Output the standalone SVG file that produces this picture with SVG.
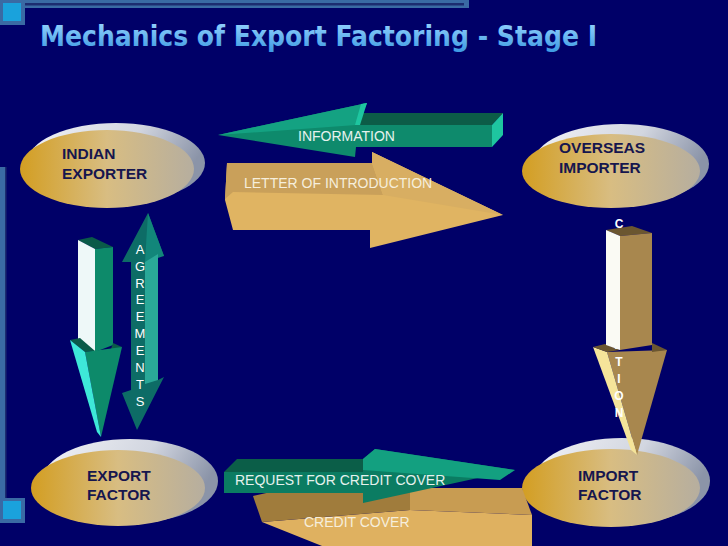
<svg xmlns="http://www.w3.org/2000/svg" width="728" height="546" viewBox="0 0 728 546">
<defs>
  <linearGradient id="face" x1="0" y1="0" x2="1" y2="0">
    <stop offset="0" stop-color="#d39e22"/>
    <stop offset="0.5" stop-color="#d8bd82"/>
    <stop offset="1" stop-color="#b6ae9f"/>
  </linearGradient>
  <linearGradient id="rim" x1="0" y1="0" x2="1" y2="0.3">
    <stop offset="0" stop-color="#f2f3f7"/>
    <stop offset="0.6" stop-color="#d2d6e0"/>
    <stop offset="1" stop-color="#8b94a8"/>
  </linearGradient>
  <linearGradient id="titleGrad" x1="0" y1="0" x2="0" y2="1">
    <stop offset="0" stop-color="#9ad6ff"/>
    <stop offset="1" stop-color="#3a98e2"/>
  </linearGradient>
</defs>
<style>
  .node-text{font-family:"Liberation Sans",Arial,sans-serif;font-weight:bold;font-size:15.5px;fill:#16164e}
  .lbl-g{font-family:"Liberation Sans",Arial,sans-serif;font-size:14px;fill:#e6f2ee}
  .lbl-t{font-family:"Liberation Sans",Arial,sans-serif;font-size:14px;fill:#f6eedc}
  .vt{font-family:"Liberation Sans",Arial,sans-serif;font-size:13px;fill:#ffffff}
  .vtb{font-family:"Liberation Sans",Arial,sans-serif;font-size:12px;font-weight:bold;fill:#ffffff}
</style>

<rect width="728" height="546" fill="#000068"/>

<!-- decoration -->
<rect x="0" y="0" width="469" height="8" fill="#3a6aa4"/>
<rect x="25" y="3" width="439" height="2.5" fill="#1c2c70"/>
<rect x="0" y="0" width="25" height="25" fill="#3a6aa4"/>
<rect x="3" y="3" width="18" height="18" fill="#1aa2dc"/>
<rect x="0" y="167" width="6" height="333" fill="#3a6aa4"/>
<rect x="5" y="167" width="1.5" height="333" fill="#1c2c70"/>
<rect x="0" y="498" width="25" height="25" fill="#3a6aa4"/>
<rect x="3" y="501" width="18" height="18" fill="#1aa2dc"/>

<text x="40" y="46" font-family="DejaVu Sans Condensed, DejaVu Sans, sans-serif" font-weight="bold" font-size="28" textLength="557" lengthAdjust="spacingAndGlyphs" fill="url(#titleGrad)">Mechanics of Export Factoring - Stage I</text>

<!-- nodes -->
<g id="indian-exporter">
  <ellipse cx="116" cy="163" rx="89" ry="40" fill="url(#rim)"/>
  <ellipse cx="107" cy="169" rx="87" ry="39" fill="url(#face)"/>
  <text class="node-text" x="62" y="158.5">INDIAN</text>
  <text class="node-text" x="62" y="179">EXPORTER</text>
</g>
<g id="overseas-importer">
  <ellipse cx="621" cy="164" rx="88" ry="40" fill="url(#rim)"/>
  <ellipse cx="611" cy="171" rx="89" ry="37" fill="url(#face)"/>
  <text class="node-text" x="559" y="153">OVERSEAS</text>
  <text class="node-text" x="559" y="173">IMPORTER</text>
</g>
<g id="export-factor">
  <ellipse cx="130" cy="481" rx="88" ry="42" fill="url(#rim)"/>
  <ellipse cx="118" cy="488" rx="87" ry="38" fill="url(#face)"/>
  <text class="node-text" x="87" y="481">EXPORT</text>
  <text class="node-text" x="87" y="500">FACTOR</text>
</g>
<g id="import-factor">
  <ellipse cx="622" cy="481" rx="88" ry="43" fill="url(#rim)"/>
  <ellipse cx="611" cy="488" rx="89" ry="39" fill="url(#face)"/>
  <text class="node-text" x="578" y="481">IMPORT</text>
  <text class="node-text" x="578" y="500">FACTOR</text>
</g>

<!-- connectors -->
<g id="connectors">
  <!-- INFORMATION: importer -> exporter -->
  <g id="arrow-information">
    <polygon points="356,113 503,113 492,125 356,125" fill="#0c5c47"/>
    <polygon points="492,125 503,113 503,135 492,147" fill="#1ec6a0"/>
    <polygon points="218,135 367,103 356,125 492,125 492,147 356,147 355,157" fill="#0e8a6c"/>
    <polygon points="218,135 367,103 356,125" fill="#14a282"/>
    <polygon points="361,104 367,103 360,125 355,125" fill="#1ec6a0"/>
    <text class="lbl-g" x="298" y="141" font-size="16">INFORMATION</text>
  </g>
  <!-- LETTER OF INTRODUCTION: exporter -> importer -->
  <g id="arrow-letter">
    <polygon points="227,163 372,163 372,152 503,215 370,248 370,230 233,230 225,200" fill="#e0b462"/>
    <polygon points="227,163 372,163 383,195 233,192 225,199" fill="#c9a05a"/>
    <polygon points="372,152 503,215 383,195 372,163" fill="#d8ae62"/>
    <text class="lbl-t" x="244" y="188">LETTER OF INTRODUCTION</text>
  </g>
  <!-- CREDIT COVER: import factor -> export factor -->
  <g id="arrow-credit-cover">
    <polygon points="262,522 410,510 532,515 532,546 322,546" fill="#dfb160"/>
    <polygon points="253,496 370,470 410,488 410,510 262,522" fill="#a07c3c"/>
    <polygon points="410,488 522,488 532,515 410,510" fill="#c89c52"/>
    <text class="lbl-t" x="304" y="527">CREDIT COVER</text>
  </g>
  <!-- REQUEST FOR CREDIT COVER: export factor -> import factor -->
  <g id="arrow-request">
    <polygon points="224,472 237,459 363,459 363,472" fill="#0b5e48"/>
    <polygon points="224,472 363,472 363,493 224,493" fill="#0b7c62"/>
    <polygon points="363,459 375,449 515,470 363,503" fill="#0b7c62"/>
    <polygon points="363,459 375,449 515,470 500,480 363,470" fill="#13a080"/>
    <text class="lbl-g" x="235" y="485">REQUEST FOR CREDIT COVER</text>
  </g>
  <!-- exporter -> export factor (down) -->
  <g id="arrow-exporter-factor">
    <polygon points="78,240 92,237 113,247 95,249" fill="#0a5a48"/>
    <polygon points="78,240 95,249 95,352 78,343" fill="#eef8f8"/>
    <polygon points="95,249 113,247 113,345 95,352" fill="#0d8a6a"/>
    <polygon points="70,340 80,338 95,351 85,352" fill="#0a5a48"/>
    <polygon points="113,343 122,347 110,352" fill="#0a5a48"/>
    <polygon points="85,352 122,347 101,437" fill="#0d8a6a"/>
    <polygon points="70,340 85,352 101,437 97,432" fill="#3ee8d8"/>
  </g>
  <!-- AGREEMENTS (both ways) -->
  <g id="arrow-agreements">
    <polygon points="148,213 164,256 158,256 158,380 164,377 137,430 122,393 131,390 131,262 122,262" fill="#0d6c66"/>
    <polygon points="148,213 164,256 145,262" fill="#12867a"/>
    <polygon points="145,262 158,254 158,380 145,384" fill="#2aa898"/>
    <text class="vt" text-anchor="middle"><tspan x="140" y="254">A</tspan><tspan x="140" y="271">G</tspan><tspan x="140" y="288">R</tspan><tspan x="140" y="304">E</tspan><tspan x="140" y="321">E</tspan><tspan x="140" y="338">M</tspan><tspan x="140" y="355">E</tspan><tspan x="140" y="372">N</tspan><tspan x="140" y="389">T</tspan><tspan x="140" y="406">S</tspan></text>
  </g>
  <!-- CONFIRMATION: importer -> import factor (down) -->
  <g id="arrow-confirmation">
    <polygon points="607,352 667,350 637,455" fill="#a8874e"/>
    <polygon points="593,347 607,352 637,455 631,450" fill="#f5e49a"/>
    <polygon points="593,347 605,344 620,350 607,352" fill="#6b5630"/>
    <polygon points="652,343 667,350 652,352" fill="#6b5630"/>
    <polygon points="606,230 632,226 652,233 620,236" fill="#6b5630"/>
    <text class="vtb" text-anchor="middle"><tspan x="619" y="228">C</tspan><tspan x="619" y="245">O</tspan><tspan x="619" y="262">N</tspan><tspan x="619" y="280">F</tspan><tspan x="619" y="297">I</tspan><tspan x="619" y="314">R</tspan><tspan x="619" y="331">M</tspan><tspan x="619" y="349">A</tspan><tspan x="619" y="366">T</tspan><tspan x="619" y="383">I</tspan><tspan x="619" y="400">O</tspan><tspan x="619" y="417">N</tspan></text>
    <polygon points="606,230 620,236 620,350 606,345" fill="#fafaf4"/>
    <polygon points="620,236 652,233 652,345 620,350" fill="#a8874e"/>
  </g>
</g>
</svg>
